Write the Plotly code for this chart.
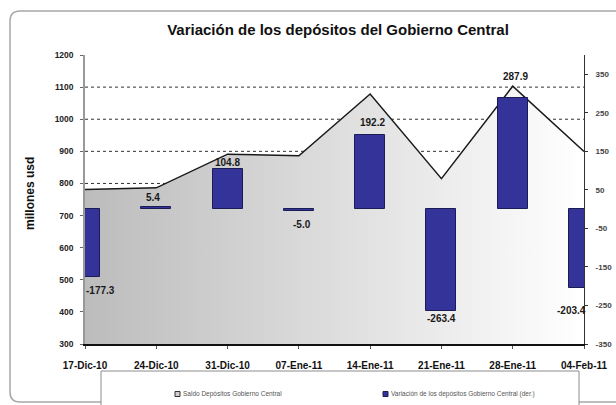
import plotly.graph_objects as go

# ---- data ----
fechas = ["17-Dic-10", "24-Dic-10", "31-Dic-10", "07-Ene-11",
          "14-Ene-11", "21-Ene-11", "28-Ene-11", "04-Feb-11"]
saldo = [781.0, 786.4, 891.2, 886.2, 1078.4, 815.0, 1102.9, 899.5]
variacion = [-177.3, 5.4, 104.8, -5.0, 192.2, -263.4, 287.9, -203.4]
nombre_saldo = "Saldo Depósitos Gobierno Central"
nombre_var = "Variación de los depósitos Gobierno Central (der.)"
titulo = "Variación de los depósitos del Gobierno Central"
left_ticks = [300, 400, 500, 600, 700, 800, 900, 1000, 1100, 1200]
right_ticks = [-350, -250, -150, -50, 50, 150, 250, 350]
grid_levels = [800, 900, 1000, 1100]

# ---- style / label placement (pixels) ----
label_xshift = [15, -3, 0, 3, 2, 0, 3, -13]
label_yshift = [-13, 10, 6, -13.5, 13, -8, 21.5, -23]

W, H = 616, 405
ML, MR, MT, MB = 85, 32, 55, 61
PW, PH = W - ML - MR, H - MT - MB


def px(x):
    return (x - ML) / PW


def py(y):
    return (H - MB - y) / PH


FONT = "Liberation Sans, Arial, sans-serif"

fig = go.Figure()

fig.add_trace(go.Scatter(
    x=fechas, y=saldo, name=nombre_saldo, mode="lines",
    line=dict(color="#1a1a1a", width=1.5),
    fill="tozeroy",
    fillgradient=dict(type="horizontal",
                      colorscale=[[0, "#bcbcbc"], [1, "#ffffff"]]),
    yaxis="y", showlegend=False,
))

fig.add_trace(go.Bar(
    x=fechas, y=variacion, name=nombre_var, width=0.42,
    marker=dict(color="#333399", line=dict(color="#1c1c55", width=1)),
    yaxis="y2", showlegend=False,
))

shapes = []
for g in grid_levels:
    shapes.append(dict(type="line", xref="paper", yref="y", x0=0, x1=1,
                       y0=g, y1=g, layer="below",
                       line=dict(color="#303030", width=1, dash="dot")))

# outer rounded border
L, T, R, B, r = 10, 11, 630, 402, 10
path = (f"M {px(L)},{py(T + r)} Q {px(L)},{py(T)} {px(L + r)},{py(T)} "
        f"L {px(R)},{py(T)} L {px(R)},{py(B)} L {px(L + r)},{py(B)} "
        f"Q {px(L)},{py(B)} {px(L)},{py(B - r)} Z")
shapes.append(dict(type="path", xref="paper", yref="paper", path=path,
                   line=dict(color="#a8a8a8", width=1.5), layer="below"))

# legend box
shapes.append(dict(type="rect", xref="paper", yref="paper",
                   x0=px(101), x1=px(579), y0=py(371), y1=py(415),
                   line=dict(color="#8c8c8c", width=1), fillcolor="white"))
# legend icons
shapes.append(dict(type="rect", xref="paper", yref="paper",
                   x0=px(175), x1=px(180), y0=py(391.5), y1=py(396.5),
                   line=dict(color="#333333", width=1), fillcolor="#d0d0d0"))
shapes.append(dict(type="rect", xref="paper", yref="paper",
                   x0=px(383), x1=px(388), y0=py(391.5), y1=py(396.5),
                   line=dict(color="#1c1c55", width=1), fillcolor="#333399"))

annotations = []
for i, (f, v) in enumerate(zip(fechas, variacion)):
    annotations.append(dict(
        x=f, y=v, xref="x", yref="y2", text=f"<b>{v:.1f}</b>",
        showarrow=False, xshift=label_xshift[i], yshift=label_yshift[i],
        xanchor="center", yanchor="middle",
        font=dict(family=FONT, size=10, color="#1a1a1a"),
    ))

annotations.append(dict(
    x=px(30), y=py(194), xref="paper", yref="paper", text="<b>millones usd</b>",
    textangle=-90, showarrow=False, xanchor="center", yanchor="middle",
    font=dict(family=FONT, size=12, color="#111"),
))
annotations.append(dict(
    x=px(181), y=py(394), xref="paper", yref="paper", text=nombre_saldo,
    xanchor="left", yanchor="middle", showarrow=False,
    font=dict(family=FONT, size=6.5, color="#555"),
))
annotations.append(dict(
    x=px(389), y=py(394), xref="paper", yref="paper", text=nombre_var,
    xanchor="left", yanchor="middle", showarrow=False,
    font=dict(family=FONT, size=6.5, color="#555"),
))

fig.update_layout(
    width=W, height=H,
    margin=dict(l=ML, r=MR, t=MT, b=MB, autoexpand=False),
    paper_bgcolor="white", plot_bgcolor="white",
    title=dict(text=f"<b>{titulo}</b>", x=338 / W, y=1 - 30 / H,
               xanchor="center", yanchor="middle", xref="container", yref="container",
               font=dict(family=FONT, size=15, color="#111")),
    xaxis=dict(type="category", range=[0, len(fechas) - 1],
               tickvals=fechas, ticktext=[f"<b>{f}</b>" for f in fechas],
               showgrid=False, showline=True, linecolor="#111", linewidth=1.5,
               ticks="outside", ticklen=3, tickcolor="#555",
               tickfont=dict(family=FONT, size=10, color="#111"),
               ticklabelstandoff=8, zeroline=False),
    yaxis=dict(range=[300, 1200], tickvals=left_ticks,
               ticktext=[f"<b>{t}</b>" for t in left_ticks],
               showgrid=False, showline=True, linecolor="#999", linewidth=1.5,
               ticks="outside", ticklen=3, tickcolor="#666",
               tickfont=dict(family=FONT, size=8.5, color="#222"),
               ticklabelstandoff=5, zeroline=False),
    yaxis2=dict(range=[-350, 400], tickvals=right_ticks, overlaying="y", side="right",
                ticktext=[f"<b>{t}</b>" for t in right_ticks],
                showgrid=False, showline=True, linecolor="#333", linewidth=1,
                ticks="outside", ticklen=3, tickcolor="#333",
                tickfont=dict(family=FONT, size=8, color="#444"),
                ticklabelstandoff=6, zeroline=False),
    shapes=shapes, annotations=annotations, showlegend=False,
    bargap=0,
)

fig.write_html("out.html", config={"displayModeBar": False},
               post_script="document.body.style.margin='0';document.body.style.overflow='hidden';")
